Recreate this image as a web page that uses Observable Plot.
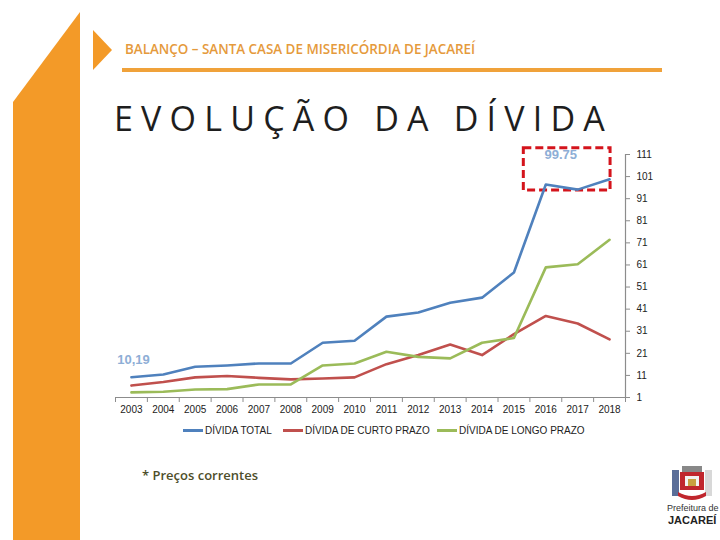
<!DOCTYPE html>
<html>
<head>
<meta charset="utf-8">
<script src="https://cdn.jsdelivr.net/npm/d3@7"></script>
<script src="https://cdn.jsdelivr.net/npm/@observablehq/plot@0.6"></script>
<style>
  html, body { margin: 0; padding: 0; background: #fff; }
  #page { position: relative; width: 720px; height: 540px; overflow: hidden; background: #fff; font-family: "Liberation Sans", Arial, sans-serif; }
  .abs { position: absolute; }
  #header { left: 125px; top: 40px; font-family: "Open Sans", sans-serif; font-size: 13.4px; font-weight: 600; color: #e59a3c; white-space: nowrap; }
  #hbar { left: 122px; top: 68px; width: 540px; height: 4px; background: #f0a23a; }
  #title { left: 114px; top: 95px; font-family: "Open Sans", sans-serif; font-size: 34px; letter-spacing: 8.2px; color: #1e1e1e; white-space: nowrap; }
  #chart { left: 0; top: 140px; }
  #legend { left: 0; top: 425px; width: 720px; font-size: 10px; color: #222; }
  .li { position: absolute; top: 0; white-space: nowrap; }
  .li span.sw { display: inline-block; width: 20px; height: 2.5px; vertical-align: middle; margin-right: 2px; position: relative; top: -1px; }
  #caption { left: 142px; top: 466px; font-family: "Open Sans", sans-serif; font-size: 13px; font-weight: 600; color: #4e4e2a; white-space: nowrap; }
  #logo1 { left: 667px; top: 503px; font-size: 9px; color: #333; white-space: nowrap; }
  #logo2 { left: 668px; top: 514px; font-size: 11px; font-weight: bold; color: #222; white-space: nowrap; }
</style>
</head>
<body>
<div id="page">
  <svg class="abs" style="left:0;top:0" width="720" height="540">
    <polygon points="13,102 80,12 80,540 13,540" fill="#f39a28"/>
    <polygon points="93,30 112,50 93,70" fill="#f39a28"/>
    <g transform="translate(672,462)">
      <rect x="10" y="4" width="20" height="6" fill="#888"/>
      <rect x="8" y="10" width="24" height="18" fill="#c0262d"/>
      <rect x="13" y="14" width="14" height="10" fill="#f2f2f2"/>
      <rect x="16" y="17" width="8" height="7" fill="#c8a040"/>
      <rect x="0" y="8" width="7" height="26" fill="#5a6e99"/>
      <rect x="33" y="8" width="7" height="26" fill="#d8d8d8"/>
      <path d="M6,30 Q20,38 34,30 L34,34 Q20,42 6,34 Z" fill="#c0262d"/>
    </g>
  </svg>
  <div id="header" class="abs">BALANÇO – SANTA CASA DE MISERICÓRDIA DE JACAREÍ</div>
  <div id="hbar" class="abs"></div>
  <div id="title" class="abs">EVOLUÇÃO DA DÍVIDA</div>
  <div id="chart" class="abs"></div>
  <div id="legend" class="abs">
    <div class="li" style="left:183px"><span class="sw" style="background:#4f81bd"></span>DÍVIDA TOTAL</div>
    <div class="li" style="left:283px"><span class="sw" style="background:#c0504d"></span>DÍVIDA DE CURTO PRAZO</div>
    <div class="li" style="left:437px"><span class="sw" style="background:#9bbb59"></span>DÍVIDA DE LONGO PRAZO</div>
  </div>
  <div id="caption" class="abs">* Preços correntes</div>
  <div id="logo1" class="abs">Prefeitura de</div>
  <div id="logo2" class="abs">JACAREÍ</div>
</div>
<script>
const years = [2003,2004,2005,2006,2007,2008,2009,2010,2011,2012,2013,2014,2015,2016,2017,2018];
const dividaTotal = [10.19,11.4,14.9,15.5,16.4,16.4,25.8,26.7,37.6,39.5,43.9,46.2,57.6,97.4,95.1,99.75];
const dividaCurto = [6.4,8.0,10.1,10.7,9.9,9.2,9.6,10.1,16.1,20.2,25.0,20.2,29.7,37.9,34.5,27.3];
const dividaLongo = [3.3,3.6,4.6,4.8,6.9,6.9,15.5,16.4,21.7,19.4,18.7,25.8,27.9,59.9,61.3,72.4];
const seriesNames = ["DÍVIDA TOTAL","DÍVIDA DE CURTO PRAZO","DÍVIDA DE LONGO PRAZO"];
const seriesColors = ["#4f81bd","#c0504d","#9bbb59"];
const yTicks = [1,11,21,31,41,51,61,71,81,91,101,111];
const lastLabel = [{year: 2017, value: dividaTotal[14], text: "99.75"}];
const firstLabel = [{year: 2003, value: dividaTotal[0], text: "10,19"}];
const highlightYears = [2016, 2017, 2018];

const data = [];
[dividaTotal, dividaCurto, dividaLongo].forEach((arr, si) => {
  years.forEach((y, i) => data.push({year: y, value: arr[i], series: seriesNames[si]}));
});
const hiVals = highlightYears.map(y => dividaTotal[years.indexOf(y)]);
const highlight = [{x1: highlightYears[0], x2: highlightYears[highlightYears.length-1], y1: d3.min(hiVals), y2: d3.max(hiVals)}];
const boundaries = [...years.map(y => y - 0.5), years[years.length-1] + 0.5];

const chart = Plot.plot({
  width: 720,
  height: 287,
  marginLeft: 115,
  marginRight: 95,
  marginTop: 14,
  marginBottom: 30,
  style: {fontFamily: "Liberation Sans, Arial, sans-serif", fontSize: "10px", color: "#222", background: "transparent"},
  x: {type: "linear", domain: [years[0] - 0.5, years[years.length-1] + 0.5]},
  y: {domain: [1, 111]},
  color: {domain: seriesNames, range: seriesColors},
  marks: [
    Plot.ruleY([1], {stroke: "#8c8c8c", strokeWidth: 1.2}),
    Plot.ruleX([years[years.length-1] + 0.5], {stroke: "#8c8c8c", strokeWidth: 1.2}),
    Plot.axisX({ticks: boundaries, tickSize: 5, tickFormat: () => "", stroke: "#8c8c8c"}),
    Plot.axisX({ticks: years, tickSize: 0, tickPadding: 8, tickFormat: d => String(d)}),
    Plot.axisY({anchor: "right", ticks: yTicks, tickSize: 4, tickPadding: 7, textAnchor: "start", tickFormat: d => String(d), stroke: "#8c8c8c"}),
    Plot.rect(highlight, {x1: "x1", x2: "x2", y1: "y1", y2: "y2", fill: "none", stroke: "#d4141c", strokeWidth: 3, strokeDasharray: "8,4", insetLeft: -22, insetRight: -1, insetTop: -31, insetBottom: -1}),
    Plot.line(data, {x: "year", y: "value", stroke: "series", z: "series", strokeWidth: 2.6, curve: "linear"}),
    Plot.text(lastLabel, {x: "year", y: "value", text: "text", dy: -35, dx: -17, fill: "#8eaed6", fontSize: 13, fontWeight: "bold"}),
    Plot.text(firstLabel, {x: "year", y: "value", text: "text", dy: -17, dx: 2, fill: "#8eaed6", fontSize: 13, fontWeight: "bold"})
  ]
});
document.getElementById("chart").appendChild(chart);
</script>
</body>
</html>
